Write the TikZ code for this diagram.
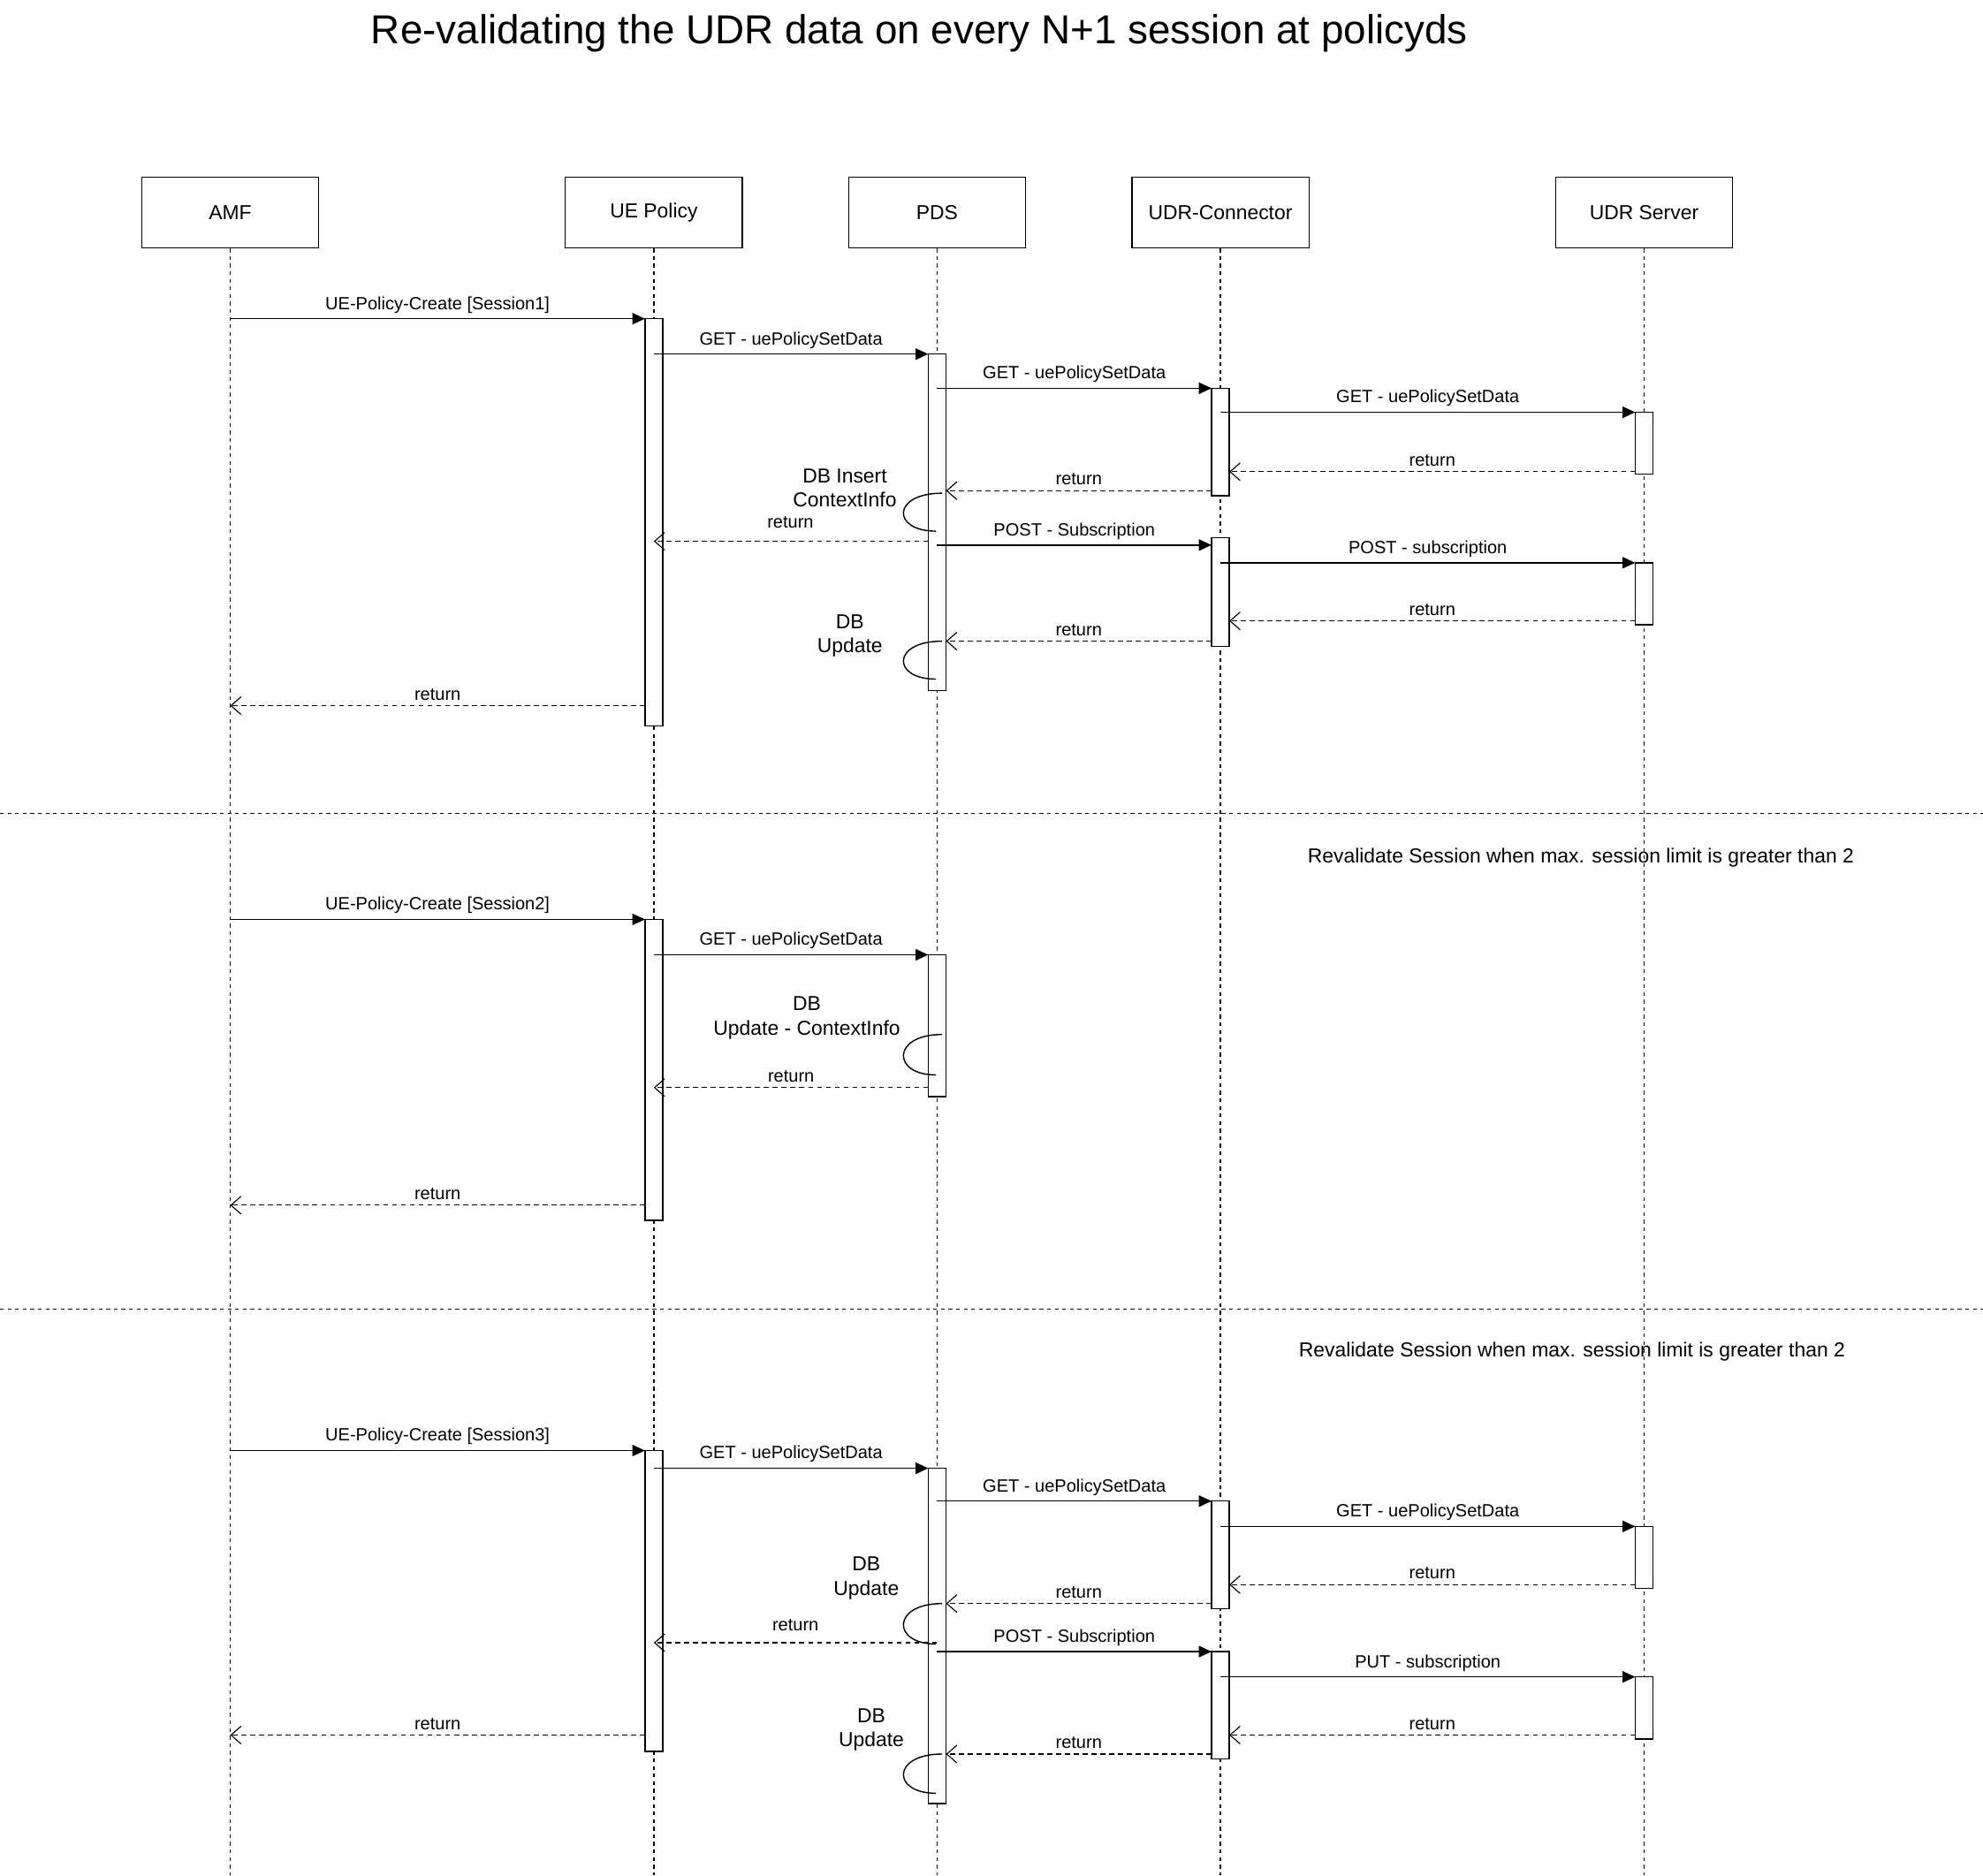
\documentclass[tikz,border=0pt]{standalone}
\usepackage{fontspec}
\setmainfont{Liberation Sans}
\usetikzlibrary{arrows.meta}
\tikzset{
 actor/.style={draw,minimum width=140pt,minimum height=56pt,font=\fontsize{16}{18}\selectfont,line width=1pt},
 life/.style={dash pattern=on 3pt off 3pt,line width=1pt},
 act/.style={draw,fill=white,line width=1pt},
 call/.style={-{Triangle[length=10pt,width=9pt]},line width=1pt},
 ret/.style={-{Straight Barb[length=8pt,width=14pt]},dash pattern=on 4pt off 3pt,line width=0.8pt},
 lbl/.style={font=\fontsize{14}{16}\selectfont,inner sep=1pt},
 note/.style={font=\fontsize{16}{19}\selectfont,align=center,inner sep=1pt}
}
\newcommand{\actbox}[3]{\draw[act] (#1-7,#2) rectangle (#1+7,#3);}
\newcommand{\msgR}[4]{\draw[call] (#2,#1) -- node[lbl,above=3pt]{#4} (#3,#1);}
\newcommand{\msgL}[4]{\draw[ret] (#2,#1) -- node[lbl,above=3pt]{#4} (#3,#1);}
\newcommand{\selfloop}[2]{\draw[line width=1pt] (745,#1) .. controls (705,#1) and (705,#2) .. (740,#2);}
\begin{document}
\begin{tikzpicture}[x=1pt,y=-1pt]
\useasboundingbox (0,0) rectangle (1568,1483);
\node[font=\fontsize{32}{36}\selectfont] (title) at (727,26) {Re-validating the UDR data on every N+1 session at policyds};
\foreach \n/\x/\t in {amf/182/AMF,ue/517/UE Policy,pds/741/PDS,udrc/965/UDR-Connector,udrs/1300/UDR Server}{
  \node[actor] (\n) at (\x,168) {\t};
  \coordinate (\n end) at (\x,1483);
  \draw[life] (\n.south) -- (\n end);
}
% separators
\coordinate (s1a) at (0,643); \coordinate (s1b) at (1568,643);
\coordinate (s2a) at (0,1035); \coordinate (s2b) at (1568,1035);
\draw[life] (s1a) -- (s1b);
\draw[life] (s2a) -- (s2b);
\node[note] (n1) at (1250,678) {Revalidate Session when max. session limit is greater than 2};
\node[note] (n2) at (1243,1069) {Revalidate Session when max. session limit is greater than 2};
% activations
\actbox{517}{252}{574}\actbox{741}{280}{546}\actbox{965}{307}{392}\actbox{1300}{326}{375}
\actbox{965}{425}{511}\actbox{1300}{445}{494}
\actbox{517}{727}{965}\actbox{741}{755}{867}
\actbox{517}{1147}{1385}\actbox{741}{1161}{1426}\actbox{965}{1187}{1272}\actbox{1300}{1207}{1256}
\actbox{965}{1306}{1391}\actbox{1300}{1326}{1375}
% session 1
\msgR{252}{182}{510}{UE-Policy-Create [Session1]}
\msgR{280}{517}{734}{GET - uePolicySetData}
\msgR{307}{741}{958}{GET - uePolicySetData}
\msgR{326}{965}{1293}{GET - uePolicySetData}
\msgL{373}{1293}{972}{return}
\msgL{388}{958}{748}{return}
\selfloop{390}{420}
\node[note] (t1) at (668,386) {DB Insert\\ContextInfo};
\msgL{428}{734}{517}{}
\node[lbl] (r1) at (625,413) {return};
\msgR{431}{741}{958}{POST - Subscription}
\msgR{445}{965}{1293}{POST - subscription}
\msgL{491}{1293}{972}{return}
\msgL{507}{958}{748}{return}
\selfloop{507}{537}
\node[note] (t2) at (672,503) {DB\\Update};
\msgL{558}{510}{182}{return}
% session 2
\msgR{727}{182}{510}{UE-Policy-Create [Session2]}
\msgR{755}{517}{734}{GET - uePolicySetData}
\selfloop{818}{850}
\node[note] (t3) at (638,805) {DB\\Update - ContextInfo};
\msgL{860}{734}{517}{return}
\msgL{953}{510}{182}{return}
% session 3
\msgR{1147}{182}{510}{UE-Policy-Create [Session3]}
\msgR{1161}{517}{734}{GET - uePolicySetData}
\msgR{1187}{741}{958}{GET - uePolicySetData}
\msgR{1207}{965}{1293}{GET - uePolicySetData}
\msgL{1253}{1293}{972}{return}
\msgL{1268}{958}{748}{return}
\selfloop{1268}{1300}
\node[note] (t4) at (685,1248) {DB\\Update};
\msgL{1299}{741}{517}{}
\node[lbl] (r3) at (629,1285) {return};
\msgR{1306}{741}{958}{POST - Subscription}
\msgR{1326}{965}{1293}{PUT - subscription}
\msgL{1372}{1293}{972}{return}
\msgL{1387}{958}{748}{return}
\selfloop{1387}{1418}
\node[note] (t5) at (689,1368) {DB\\Update};
\msgL{1372}{510}{182}{return}
\end{tikzpicture}
\end{document}
